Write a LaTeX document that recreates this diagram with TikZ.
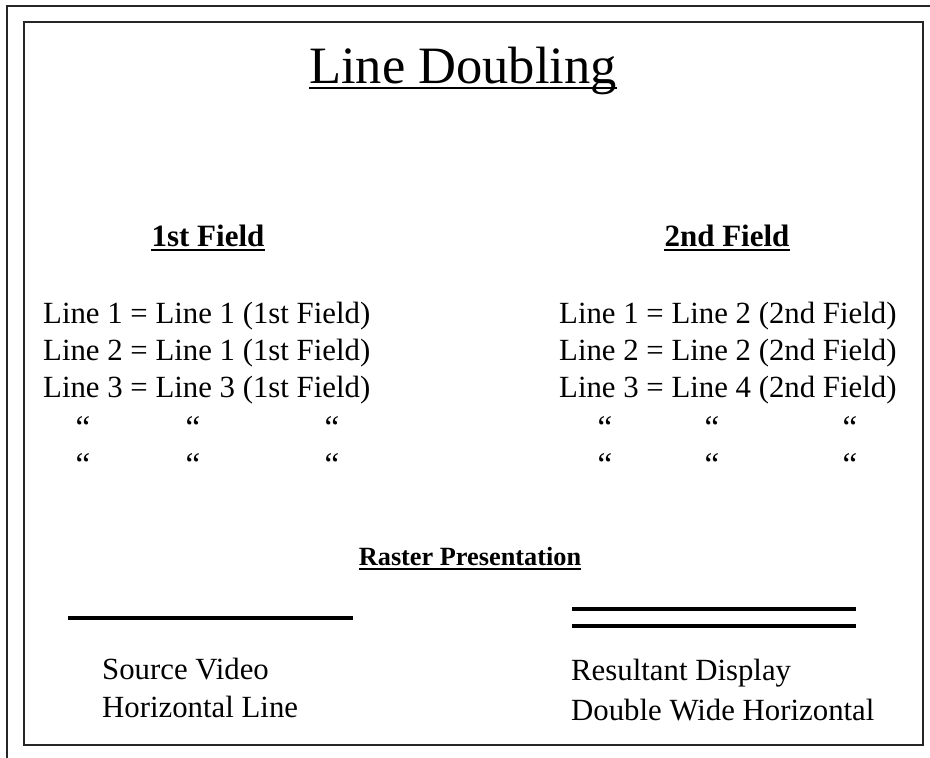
\documentclass[tikz,border=0pt]{standalone}
\usepackage{fontspec}
\setmainfont{Liberation Serif}
\begin{document}
\begin{tikzpicture}[x=1pt,y=-1pt,
  frame/.style={line width=1.5pt,black!85},
  body/.style={inner sep=0pt,anchor=base west,font=\fontsize{30.8}{36}\selectfont},
  quot/.style={inner sep=0pt,anchor=base,font=\fontsize{33}{36}\selectfont},
  head/.style={inner sep=0pt,anchor=base,font=\fontsize{31}{36}\selectfont\bfseries},
  uline/.style={line width=1.6pt},
  raster/.style={line width=4pt}]
\useasboundingbox (0,0) rectangle (930,758);
% frames
\draw[frame] (7,758) -- (7,6) -- (930,6);
\draw[frame] (24,22) rectangle (923,745);
% title
\node[inner sep=0pt,anchor=base,font=\fontsize{52.5}{60}\selectfont] (title) at (463,83) {Line Doubling};
\draw[uline] ([yshift=-5pt]title.base west) -- ([yshift=-5pt]title.base east);
% headings
\node[head] (f1) at (208,246) {1st Field};
\draw[uline] ([yshift=-4pt]f1.base west) -- ([yshift=-4pt]f1.base east);
\node[head] (f2) at (727,246) {2nd Field};
\draw[uline] ([yshift=-4pt]f2.base west) -- ([yshift=-4pt]f2.base east);
% left column
\node[body] (l1) at (43,323) {Line 1 = Line 1 (1st Field)};
\node[body] (l2) at (43,360) {Line 2 = Line 1 (1st Field)};
\node[body] (l3) at (43,397) {Line 3 = Line 3 (1st Field)};
\node[quot] (qa1) at (83,438) {“};
\node[quot] (qa2) at (193,438) {“};
\node[quot] (qa3) at (332,438) {“};
\node[quot] (qb1) at (83,475) {“};
\node[quot] (qb2) at (193,475) {“};
\node[quot] (qb3) at (332,475) {“};
% right column
\node[body] (r1) at (559,323) {Line 1 = Line 2 (2nd Field)};
\node[body] (r2) at (559,360) {Line 2 = Line 2 (2nd Field)};
\node[body] (r3) at (559,397) {Line 3 = Line 4 (2nd Field)};
\node[quot] (qc1) at (605,438) {“};
\node[quot] (qc2) at (712,438) {“};
\node[quot] (qc3) at (850,438) {“};
\node[quot] (qd1) at (605,475) {“};
\node[quot] (qd2) at (712,475) {“};
\node[quot] (qd3) at (850,475) {“};
% raster
\node[inner sep=0pt,anchor=base,font=\fontsize{26.3}{30}\selectfont\bfseries] (rp) at (470,565) {Raster Presentation};
\draw[uline] ([yshift=-4pt]rp.base west) -- ([yshift=-4pt]rp.base east);
\coordinate (s1) at (68,618);
\coordinate (s2) at (353,618);
\draw[raster] (s1) -- (s2);
\coordinate (d1) at (572,609);
\coordinate (d2) at (856,609);
\coordinate (d3) at (572,626);
\coordinate (d4) at (856,626);
\draw[raster] (d1) -- (d2);
\draw[raster] (d3) -- (d4);
% captions
\node[body] (c1) at (102,679) {Source Video};
\node[body] (c2) at (102,717) {Horizontal Line};
\node[body] (c3) at (571,680) {Resultant Display};
\node[body] (c4) at (571,720) {Double Wide Horizontal};
\end{tikzpicture}
\end{document}
